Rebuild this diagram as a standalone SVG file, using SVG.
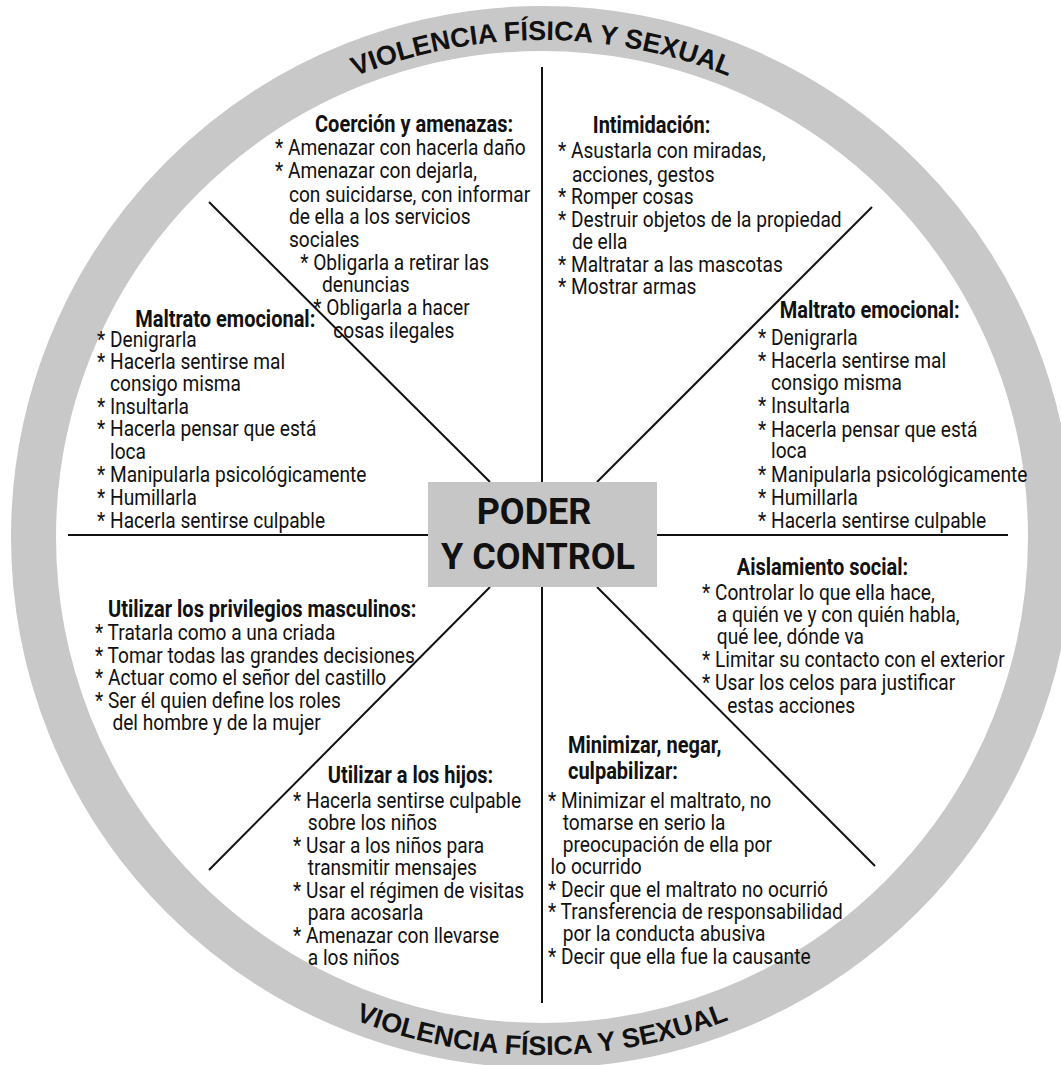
<svg xmlns="http://www.w3.org/2000/svg" width="1061" height="1065" viewBox="0 0 1061 1065">
  <style>
    .ring { fill: none; stroke: #c8c8c8; stroke-width: 45; }
    .arc { font-family: "Liberation Sans", Arial, sans-serif; font-size: 27px; font-weight: bold; fill: #111; }
    .spoke { stroke: #111; stroke-width: 2; fill: none; }
    .hub { fill: #c6c6c6; }
    .hubtxt { font-family: Roboto, "Liberation Sans", sans-serif; font-size: 36px; font-weight: bold; fill: #111; text-anchor: middle; }
    .t { font-family: Roboto, "Liberation Sans", sans-serif; font-size: 22px; fill: #111; }
    .h { font-family: Roboto, "Liberation Sans", sans-serif; font-size: 23px; font-weight: bold; fill: #111; }
  </style>
  <defs>
    <path id="arcTop" d="M 45 537 A 497 497 0 0 1 1039 537"/>
    <path id="arcBottom" d="M 24 537 A 518 518 0 0 0 1060 537"/>
  </defs>

  <rect width="1061" height="1065" fill="#ffffff"/>

  <!-- outer ring with its two curved captions -->
  <g id="ring">
    <circle class="ring" cx="542" cy="537" r="508.5"/>
    <text class="arc"><textPath href="#arcTop" startOffset="50%" text-anchor="middle">VIOLENCIA FÍSICA Y SEXUAL</textPath></text>
    <text class="arc"><textPath href="#arcBottom" startOffset="50%" text-anchor="middle">VIOLENCIA FÍSICA Y SEXUAL</textPath></text>
  </g>

  <!-- spokes dividing the wheel -->
  <g id="connectors">
    <line class="spoke" x1="542" y1="67" x2="542" y2="482"/>
    <line class="spoke" x1="542" y1="587" x2="542" y2="1003"/>
    <line class="spoke" x1="68" y1="535" x2="428" y2="535"/>
    <line class="spoke" x1="657" y1="535" x2="1008" y2="535"/>
    <line class="spoke" x1="209" y1="202" x2="490" y2="482"/>
    <line class="spoke" x1="872" y1="207" x2="597" y2="482"/>
    <line class="spoke" x1="490" y1="587" x2="209" y2="870"/>
    <line class="spoke" x1="597" y1="587" x2="875" y2="866"/>
  </g>

  <!-- hub -->
  <g id="hub">
    <rect class="hub" x="428" y="482" width="229" height="105"/>
    <text class="hubtxt" x="534" y="524">PODER</text>
    <text class="hubtxt" x="538" y="569">Y CONTROL</text>
  </g>

  <g id="coercion" transform="translate(275 0) scale(0.87 1)">
    <text class="h" x="46" y="132">Coerción y amenazas:</text>
    <text class="t" x="0" y="155">* Amenazar con hacerla daño</text>
    <text class="t" x="0" y="178">* Amenazar con dejarla,</text>
    <text class="t" x="16" y="202">con suicidarse, con informar</text>
    <text class="t" x="16" y="224">de ella a los servicios</text>
    <text class="t" x="16" y="247">sociales</text>
    <text class="t" x="29" y="270">* Obligarla a retirar las</text>
    <text class="t" x="54" y="292">denuncias</text>
    <text class="t" x="44" y="315">* Obligarla a hacer</text>
    <text class="t" x="67" y="338">cosas ilegales</text>
  </g>

  <g id="intimidacion" transform="translate(558 0) scale(0.87 1)">
    <text class="h" x="40" y="133">Intimidación:</text>
    <text class="t" x="0" y="158">* Asustarla con miradas,</text>
    <text class="t" x="16" y="182">acciones, gestos</text>
    <text class="t" x="0" y="204">* Romper cosas</text>
    <text class="t" x="0" y="227">* Destruir objetos de la propiedad</text>
    <text class="t" x="16" y="249">de ella</text>
    <text class="t" x="0" y="272">* Maltratar a las mascotas</text>
    <text class="t" x="0" y="294">* Mostrar armas</text>
  </g>

  <g id="emocional-left" transform="translate(97 0) scale(0.87 1)">
    <text class="h" x="44" y="327">Maltrato emocional:</text>
    <text class="t" x="0" y="347">* Denigrarla</text>
    <text class="t" x="0" y="369">* Hacerla sentirse mal</text>
    <text class="t" x="15" y="391">consigo misma</text>
    <text class="t" x="0" y="414">* Insultarla</text>
    <text class="t" x="0" y="436">* Hacerla pensar que está</text>
    <text class="t" x="15" y="459">loca</text>
    <text class="t" x="0" y="482">* Manipularla psicológicamente</text>
    <text class="t" x="0" y="505">* Humillarla</text>
    <text class="t" x="0" y="528">* Hacerla sentirse culpable</text>
  </g>

  <g id="emocional-right" transform="translate(758 0) scale(0.87 1)">
    <text class="h" x="25" y="318">Maltrato emocional:</text>
    <text class="t" x="0" y="345">* Denigrarla</text>
    <text class="t" x="0" y="368">* Hacerla sentirse mal</text>
    <text class="t" x="15" y="390">consigo misma</text>
    <text class="t" x="0" y="413">* Insultarla</text>
    <text class="t" x="0" y="437">* Hacerla pensar que está</text>
    <text class="t" x="15" y="458">loca</text>
    <text class="t" x="0" y="482">* Manipularla psicológicamente</text>
    <text class="t" x="0" y="505">* Humillarla</text>
    <text class="t" x="0" y="528">* Hacerla sentirse culpable</text>
  </g>

  <g id="privilegios" transform="translate(95 0) scale(0.87 1)">
    <text class="h" x="15" y="617">Utilizar los privilegios masculinos:</text>
    <text class="t" x="0" y="640">* Tratarla como a una criada</text>
    <text class="t" x="0" y="663">* Tomar todas las grandes decisiones</text>
    <text class="t" x="0" y="685">* Actuar como el señor del castillo</text>
    <text class="t" x="0" y="708">* Ser él quien define los roles</text>
    <text class="t" x="20" y="730">del hombre y de la mujer</text>
  </g>

  <g id="aislamiento" transform="translate(702 0) scale(0.87 1)">
    <text class="h" x="40" y="575">Aislamiento social:</text>
    <text class="t" x="0" y="600">* Controlar lo que ella hace,</text>
    <text class="t" x="17" y="622">a quién ve y con quién habla,</text>
    <text class="t" x="17" y="644">qué lee, dónde va</text>
    <text class="t" x="0" y="667">* Limitar su contacto con el exterior</text>
    <text class="t" x="0" y="690">* Usar los celos para justificar</text>
    <text class="t" x="29" y="713">estas acciones</text>
  </g>

  <g id="minimizar" transform="translate(548 0) scale(0.87 1)">
    <text class="h" x="23" y="753">Minimizar, negar,</text>
    <text class="h" x="23" y="779">culpabilizar:</text>
    <text class="t" x="0" y="808">* Minimizar el maltrato, no</text>
    <text class="t" x="17" y="830">tomarse en serio la</text>
    <text class="t" x="17" y="852">preocupación de ella por</text>
    <text class="t" x="3" y="874">lo ocurrido</text>
    <text class="t" x="0" y="897">* Decir que el maltrato no ocurrió</text>
    <text class="t" x="0" y="919">* Transferencia de responsabilidad</text>
    <text class="t" x="17" y="941">por la conducta abusiva</text>
    <text class="t" x="0" y="964">* Decir que ella fue la causante</text>
  </g>

  <g id="hijos" transform="translate(293 0) scale(0.87 1)">
    <text class="h" x="40" y="783">Utilizar a los hijos:</text>
    <text class="t" x="0" y="808">* Hacerla sentirse culpable</text>
    <text class="t" x="17" y="830">sobre los niños</text>
    <text class="t" x="0" y="853">* Usar a los niños para</text>
    <text class="t" x="17" y="875">transmitir mensajes</text>
    <text class="t" x="0" y="898">* Usar el régimen de visitas</text>
    <text class="t" x="17" y="920">para acosarla</text>
    <text class="t" x="0" y="943">* Amenazar con llevarse</text>
    <text class="t" x="17" y="965">a los niños</text>
  </g>
</svg>
